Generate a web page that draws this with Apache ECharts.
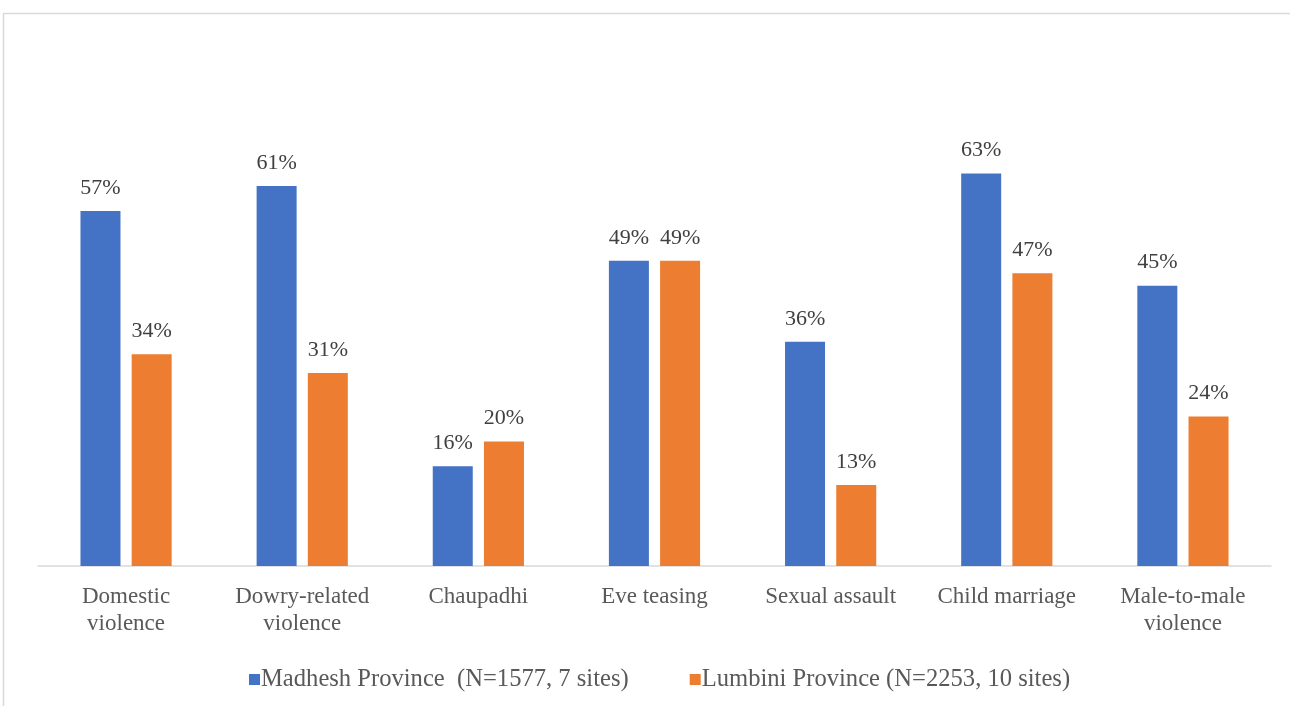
<!DOCTYPE html>
<html>
<head>
<meta charset="utf-8">
<script src="https://cdn.jsdelivr.net/npm/echarts@6/dist/echarts.min.js"></script>
<style>
html,body{margin:0;padding:0;background:#fff;}
#c{width:1290px;height:706px;}
</style>
</head>
<body>
<div id="c"></div>
<script>
const categories = ["Domestic\nviolence", "Dowry-related\nviolence", "Chaupadhi", "Eve teasing", "Sexual assault", "Child marriage", "Male-to-male\nviolence"];
const seriesNames = ["Madhesh Province  (N=1577, 7 sites)", "Lumbini Province (N=2253, 10 sites)"];
const madhesh = [57, 61, 16, 49, 36, 63, 45];
const lumbini = [34, 31, 20, 49, 13, 47, 24];

const chart = echarts.init(document.getElementById('c'), null, {renderer: 'canvas'});
const font = '"Liberation Serif", "Times New Roman", serif';
const lbl = {show: true, position: 'top', distance: 12, formatter: '{c}%', color: '#404040', fontFamily: font, fontSize: 22};
chart.setOption({
  animation: false,
  textStyle: {fontFamily: font},
  graphic: [{
    type: 'rect', shape: {x: 3.5, y: 13.5, width: 1400, height: 800},
    style: {fill: 'none', stroke: '#d9d9d9', lineWidth: 1.5}, silent: true
  }],
  grid: {left: 38, right: 19, top: 130, bottom: 140, containLabel: false},
  legend: {
    top: 662, left: 244, itemWidth: 11, itemHeight: 11, itemGap: 61,
    icon: 'rect',
    textStyle: {fontFamily: font, fontSize: 24.6, color: '#595959', padding: [0, 0, 0, -4]},
    data: seriesNames
  },
  xAxis: {
    type: 'category', data: categories,
    axisLine: {lineStyle: {color: '#d9d9d9', width: 1.5}},
    axisTick: {show: false},
    axisLabel: {fontFamily: font, fontSize: 23, color: '#595959', margin: 17, lineHeight: 27, interval: 0}
  },
  yAxis: {type: 'value', min: 0, max: 70, show: false, splitLine: {show: false}},
  series: [
    {name: seriesNames[0], type: 'bar', data: madhesh, barWidth: 40, barGap: '28%', itemStyle: {color: '#4472c4'}, label: lbl},
    {name: seriesNames[1], type: 'bar', data: lumbini, barWidth: 40, barGap: '28%', itemStyle: {color: '#ed7d31'}, label: lbl}
  ]
});
</script>
</body>
</html>
